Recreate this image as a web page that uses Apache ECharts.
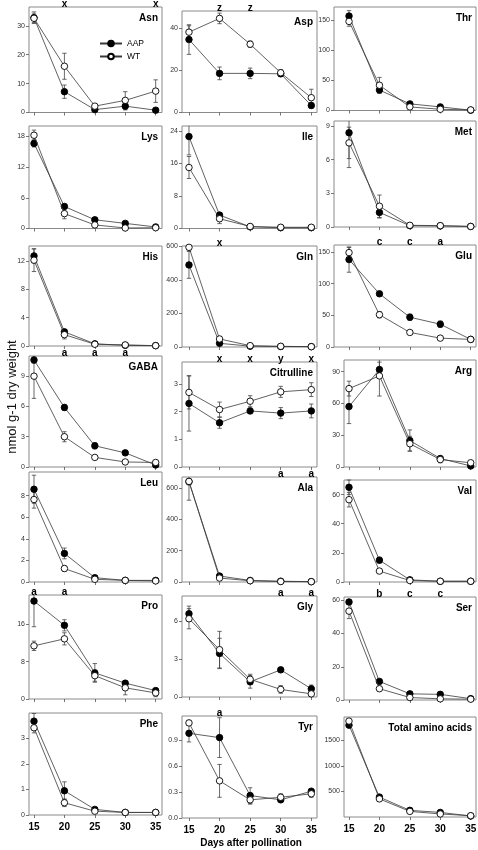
<!DOCTYPE html>
<html><head><meta charset="utf-8">
<script src="https://cdn.jsdelivr.net/npm/echarts@6/dist/echarts.min.js"></script>
<style>html,body{margin:0;padding:0;background:#fff}#c{width:478px;height:850px}</style>
</head><body><div id="c"></div>
<script>
const days = [15, 20, 25, 30, 35];

const asnAAP = [32.8, 7.2, 1.0, 2.2, 0.8];
const asnAAPErr = [2.0, 2.3, 0.4, 1.3, 0.4];
const asnWT = [32.6, 16.0, 2.2, 4.2, 7.4];
const asnWTErr = [1.5, 4.5, 0.6, 3.0, 3.9];
const asnSig = ['', 'x', '', '', 'x'];
const asnTicks = [0, 10, 20, 30];

const aspAAP = [34.5, 18.5, 18.5, 18.3, 3.3];
const aspAAPErr = [7.0, 3.0, 2.5, 1.3, 1.3];
const aspWT = [38, 44.5, 32.3, 18.8, 7.0];
const aspWTErr = [3.0, 2.5, 1.5, 1.5, 4.0];
const aspSig = ['', 'z', 'z', '', ''];
const aspTicks = [0, 20, 40];

const thrAAP = [157, 34, 11, 6, 0.5];
const thrAAPErr = [9, 5, 2, 2, 0.3];
const thrWT = [148, 42, 6, 2, 1];
const thrWTErr = [8, 13, 2, 1, 0.3];
const thrSig = ['', '', '', '', ''];
const thrTicks = [0, 50, 100, 150];

const lysAAP = [16.6, 4.3, 1.7, 1.0, 0.3];
const lysAAPErr = [0.7, 0.3, 0.3, 0.2, 0.1];
const lysWT = [18.2, 2.9, 0.7, 0.1, 0.15];
const lysWTErr = [1.0, 1.0, 0.2, 0.1, 0.1];
const lysSig = ['', '', '', '', ''];
const lysTicks = [0, 6, 12, 18];

const ileAAP = [22.6, 3.3, 0.4, 0.2, 0.2];
const ileAAPErr = [4.5, 0.6, 0.1, 0.05, 0.05];
const ileWT = [15.0, 2.4, 0.5, 0.3, 0.3];
const ileWTErr = [2.7, 1.2, 0.2, 0.1, 0.1];
const ileSig = ['', '', '', '', ''];
const ileTicks = [0, 8, 16, 24];

const metAAP = [8.4, 1.3, 0.12, 0.1, 0.05];
const metAAPErr = [3.1, 0.5, 0.05, 0.03, 0.02];
const metWT = [7.5, 1.85, 0.15, 0.12, 0.05];
const metWTErr = [1.4, 1.0, 0.05, 0.03, 0.02];
const metSig = ['', '', '', '', ''];
const metTicks = [0, 3, 6, 9];

const hisAAP = [12.7, 2.0, 0.3, 0.1, 0.05];
const hisAAPErr = [1.0, 0.3, 0.1, 0.05, 0.02];
const hisWT = [12.1, 1.6, 0.25, 0.15, 0.05];
const hisWTErr = [1.6, 0.6, 0.1, 0.05, 0.02];
const hisSig = ['', '', '', '', ''];
const hisTicks = [0, 4, 8, 12];

const glnAAP = [490, 22, 5, 3, 2];
const glnAAPErr = [80, 5, 2, 1, 1];
const glnWT = [595, 48, 8, 4, 2];
const glnWTErr = [15, 10, 2, 1, 1];
const glnSig = ['', 'x', '', '', ''];
const glnTicks = [0, 200, 400, 600];

const gluAAP = [138, 84, 47, 36, 12];
const gluAAPErr = [20, 3, 5, 5, 2];
const gluWT = [149, 51, 23, 14, 12];
const gluWTErr = [8, 5, 2, 2, 2];
const gluSig = ['', 'c', 'c', 'a', ''];
const gluTicks = [0, 50, 100, 150];

const gabaAAP = [10.6, 5.9, 2.1, 1.4, 0.2];
const gabaAAPErr = [0.3, 0.3, 0.3, 0.2, 0.1];
const gabaWT = [9.0, 3.0, 0.95, 0.5, 0.45];
const gabaWTErr = [2.2, 0.5, 0.1, 0.1, 0.1];
const gabaSig = ['', 'a', 'a', 'a', ''];
const gabaTicks = [0, 3, 6, 9];

const citAAP = [2.3, 1.6, 2.03, 1.95, 2.03];
const citAAPErr = [1.0, 0.2, 0.1, 0.2, 0.25];
const citWT = [2.7, 2.08, 2.38, 2.72, 2.8];
const citWTErr = [0.6, 0.27, 0.2, 0.2, 0.25];
const citSig = ['', 'x', 'x', 'y', 'x'];
const citTicks = [0, 1, 2, 3];

const argAAP = [57, 92, 25, 8, 1];
const argAAPErr = [16, 7, 10, 2, 1];
const argWT = [74, 86, 22, 7, 4];
const argWTErr = [7, 19, 7, 3, 1];
const argSig = ['', '', '', '', ''];
const argTicks = [0, 30, 60, 90];

const leuAAP = [8.6, 2.65, 0.4, 0.15, 0.15];
const leuAAPErr = [1.3, 0.5, 0.1, 0.05, 0.05];
const leuWT = [7.65, 1.25, 0.25, 0.15, 0.1];
const leuWTErr = [0.8, 0.25, 0.05, 0.05, 0.05];
const leuSig = ['', '', '', '', ''];
const leuTicks = [0, 2, 4, 6, 8];

const alaAAP = [640, 38, 10, 5, 2];
const alaAAPErr = [20, 5, 2, 2, 1];
const alaWT = [642, 25, 8, 3, 2];
const alaWTErr = [120, 5, 2, 2, 1];
const alaSig = ['', '', '', 'a', 'a'];
const alaTicks = [0, 200, 400, 600];

const valAAP = [65, 15, 1.5, 0.5, 0.5];
const valAAPErr = [5, 2, 0.3, 0.2, 0.2];
const valWT = [56.5, 7.5, 1, 0.5, 0.5];
const valWTErr = [5, 1, 0.3, 0.2, 0.2];
const valSig = ['', '', '', '', ''];
const valTicks = [0, 20, 40, 60];

const proAAP = [21, 15.8, 5.6, 3.4, 1.8];
const proAAPErr = [5.5, 1.2, 2.0, 0.5, 0.4];
const proWT = [11.4, 12.9, 5.0, 2.4, 1.3];
const proWTErr = [1.0, 1.3, 1.2, 1.5, 0.8];
const proSig = ['a', 'a', '', '', ''];
const proTicks = [0, 8, 16];

const glyAAP = [6.6, 3.45, 1.2, 2.15, 0.65];
const glyAAPErr = [0.6, 1.2, 0.5, 0.15, 0.3];
const glyWT = [6.2, 3.75, 1.4, 0.6, 0.25];
const glyWTErr = [0.8, 1.45, 0.4, 0.3, 0.1];
const glySig = ['', '', '', 'a', 'a'];
const glyTicks = [0, 3, 6];

const serAAP = [59, 11.2, 3.7, 3.4, 0.8];
const serAAPErr = [1.5, 1, 0.5, 0.5, 0.2];
const serWT = [53.5, 6.8, 1.5, 0.7, 0.5];
const serWTErr = [4.5, 0.8, 0.3, 0.2, 0.2];
const serSig = ['', 'b', 'c', 'c', ''];
const serTicks = [0, 20, 40, 60];

const pheAAP = [3.68, 0.95, 0.22, 0.1, 0.1];
const pheAAPErr = [0.3, 0.35, 0.05, 0.02, 0.02];
const pheWT = [3.42, 0.48, 0.15, 0.1, 0.1];
const pheWTErr = [0.2, 0.15, 0.03, 0.02, 0.02];
const pheSig = ['', '', '', '', ''];
const pheTicks = [0, 1, 2, 3];

const tyrAAP = [0.98, 0.93, 0.26, 0.21, 0.31];
const tyrAAPErr = [0.1, 0.23, 0.09, 0.02, 0.02];
const tyrWT = [1.1, 0.43, 0.21, 0.24, 0.28];
const tyrWTErr = [0.03, 0.19, 0.05, 0.04, 0.04];
const tyrSig = ['', 'a', '', '', ''];
const tyrTicks = [0, 0.3, 0.6, 0.9];

const totAAP = [1800, 390, 130, 90, 20];
const totAAPErr = [30, 20, 15, 10, 5];
const totWT = [1880, 355, 110, 60, 25];
const totWTErr = [30, 20, 10, 10, 5];
const totSig = ['', '', '', '', ''];
const totTicks = [500, 1000, 1500];

// layout
const FONT = 'Liberation Sans, Arial, sans-serif';
const cols = [
  {left: 29, right: 162, xmin: 14.18, xmax: 36.04},
  {left: 182, right: 317, xmin: 13.86, xmax: 35.93},
  {left: 334, right: 476, xmin: 12.53, xmax: 35.87},
  {left: 344, right: 476, xmin: 14.18, xmax: 35.87}
];
const P = (title, aap, aapErr, wt, wtErr, sig, ticks, yMax, col, top, bottom, row, dec) =>
  ({title, aap, aapErr, wt, wtErr, sig, ticks, yMax, col, top, bottom, row, dec: dec || 0});
const panels = [
  P('Asn', asnAAP, asnAAPErr, asnWT, asnWTErr, asnSig, asnTicks, 36.5, 0, 7, 112.5, 0),
  P('Asp', aspAAP, aspAAPErr, aspWT, aspWTErr, aspSig, aspTicks, 48, 1, 11, 112.5, 0),
  P('Thr', thrAAP, thrAAPErr, thrWT, thrWTErr, thrSig, thrTicks, 172, 2, 7, 110.5, 0),
  P('Lys', lysAAP, lysAAPErr, lysWT, lysWTErr, lysSig, lysTicks, 20, 0, 126, 228.5, 1),
  P('Ile', ileAAP, ileAAPErr, ileWT, ileWTErr, ileSig, ileTicks, 25.2, 1, 126, 228.5, 1),
  P('Met', metAAP, metAAPErr, metWT, metWTErr, metSig, metTicks, 9.45, 2, 121, 227, 1),
  P('His', hisAAP, hisAAPErr, hisWT, hisWTErr, hisSig, hisTicks, 14.1, 0, 246, 346, 2),
  P('Gln', glnAAP, glnAAPErr, glnWT, glnWTErr, glnSig, glnTicks, 603, 1, 246, 347, 2),
  P('Glu', gluAAP, gluAAPErr, gluWT, gluWTErr, gluSig, gluTicks, 161, 2, 245, 347, 2),
  P('GABA', gabaAAP, gabaAAPErr, gabaWT, gabaWTErr, gabaSig, gabaTicks, 11, 0, 356, 467, 3),
  P('Citrulline', citAAP, citAAPErr, citWT, citWTErr, citSig, citTicks, 3.8, 1, 362, 467, 3),
  P('Arg', argAAP, argAAPErr, argWT, argWTErr, argSig, argTicks, 101, 3, 360, 467, 3),
  P('Leu', leuAAP, leuAAPErr, leuWT, leuWTErr, leuSig, leuTicks, 10.2, 0, 472, 582, 4),
  P('Ala', alaAAP, alaAAPErr, alaWT, alaWTErr, alaSig, alaTicks, 670, 1, 477, 582, 4),
  P('Val', valAAP, valAAPErr, valWT, valWTErr, valSig, valTicks, 70, 3, 480, 582, 4),
  P('Pro', proAAP, proAAPErr, proWT, proWTErr, proSig, proTicks, 22.3, 0, 595, 699, 5),
  P('Gly', glyAAP, glyAAPErr, glyWT, glyWTErr, glySig, glyTicks, 8, 1, 596, 697, 5),
  P('Ser', serAAP, serAAPErr, serWT, serWTErr, serSig, serTicks, 62, 3, 597, 700, 5),
  P('Phe', pheAAP, pheAAPErr, pheWT, pheWTErr, pheSig, pheTicks, 4, 0, 713, 815, 6),
  P('Tyr', tyrAAP, tyrAAPErr, tyrWT, tyrWTErr, tyrSig, tyrTicks, 1.18, 1, 716, 818, 6, 1),
  P('Total amino acids', totAAP, totAAPErr, totWT, totWTErr, totSig, totTicks, 1960, 3, 717, 817, 6)
];

function errSeries(vals, errs, gi) {
  return {
    type: 'custom', xAxisIndex: gi, yAxisIndex: gi, z: 1, silent: true, clip: false,
    data: days.map((d, k) => [d, vals[k], errs[k]]),
    renderItem(params, api) {
      const cs = params.coordSys;
      const x = api.value(0), v = api.value(1), e = api.value(2);
      const px = api.coord([x, v])[0];
      let yt = api.coord([x, v + e])[1];
      let yb = api.coord([x, v - e])[1];
      const top = cs.y, bot = cs.y + cs.height;
      const capT = yt >= top, capB = yb <= bot;
      yt = Math.max(yt, top); yb = Math.min(yb, bot);
      const st = {stroke: '#444', lineWidth: 0.8};
      const ch = [{type: 'line', shape: {x1: px, y1: yt, x2: px, y2: yb}, style: st}];
      if (capT) ch.push({type: 'line', shape: {x1: px - 2.2, y1: yt, x2: px + 2.2, y2: yt}, style: st});
      if (capB) ch.push({type: 'line', shape: {x1: px - 2.2, y1: yb, x2: px + 2.2, y2: yb}, style: st});
      return {type: 'group', children: ch};
    }
  };
}
function sigSeries(sig, gi) {
  const data = [];
  days.forEach((d, k) => { if (sig[k]) data.push([d, k]); });
  return {
    type: 'custom', xAxisIndex: gi, yAxisIndex: gi, z: 5, silent: true, clip: false, data,
    renderItem(params, api) {
      const cs = params.coordSys;
      const x = api.coord([api.value(0), 0])[0];
      return {type: 'text', x: x, y: cs.y + 2.5,
        style: {text: sig[api.value(1)], align: 'center', verticalAlign: 'bottom',
          fontSize: 10, fontWeight: 'bold', fontFamily: FONT, fill: '#000'}};
    }
  };
}
function lineSeries(name, vals, gi, fill) {
  return {
    type: 'line', name, xAxisIndex: gi, yAxisIndex: gi, z: name === 'WT' ? 3 : 2,
    data: days.map((d, k) => [d, vals[k]]),
    symbol: 'circle', symbolSize: 6.5, showSymbol: true, silent: true,
    lineStyle: {color: '#3a3a3a', width: 0.8},
    itemStyle: {color: fill, borderColor: '#000', borderWidth: 0.9},
    emphasis: {disabled: true}
  };
}

const grid = [], xAxis = [], yAxis = [], series = [], graphics = [];
panels.forEach((p, i) => {
  const c = cols[p.col];
  grid.push({left: c.left, top: p.top, width: c.right - c.left, height: p.bottom - p.top,
    show: true, borderColor: '#8a8a8a', borderWidth: 1, backgroundColor: 'transparent',
    containLabel: false, outerBoundsMode: 'none'});
  xAxis.push({gridIndex: i, type: 'value', min: c.xmin, max: c.xmax,
    axisLine: {show: false}, splitLine: {show: false},
    axisTick: {show: true, length: 3, customValues: days, lineStyle: {color: '#555', width: 0.8}},
    axisLabel: {show: p.row === 6, customValues: days, fontSize: 10, fontWeight: 'bold',
      fontFamily: FONT, color: '#000', margin: 7}});
  yAxis.push({gridIndex: i, type: 'value', min: 0, max: p.yMax,
    axisLine: {show: false}, splitLine: {show: false},
    axisTick: {show: true, length: 3, customValues: p.ticks, lineStyle: {color: '#555', width: 0.8}},
    axisLabel: {customValues: p.ticks, fontSize: 7, fontFamily: FONT, color: '#333', margin: 4,
      formatter: v => p.dec ? v.toFixed(p.dec) : String(v)}});
  series.push(errSeries(p.aap, p.aapErr, i));
  series.push(errSeries(p.wt, p.wtErr, i));
  series.push(lineSeries('AAP', p.aap, i, '#000'));
  series.push(lineSeries('WT', p.wt, i, '#fff'));
  series.push(sigSeries(p.sig, i));
  graphics.push({type: 'text', x: c.right - 4, y: p.top + 11,
    style: {text: p.title, align: 'right', verticalAlign: 'middle', fontSize: 10,
      fontWeight: 'bold', fontFamily: FONT, fill: '#000'}});
});
graphics.push({type: 'text', x: 12, y: 397, rotation: Math.PI / 2,
  style: {text: 'nmol g-1 dry weight', align: 'center', verticalAlign: 'middle',
    fontSize: 13, fontFamily: FONT, fill: '#111'}});
graphics.push({type: 'text', x: 251, y: 843,
  style: {text: 'Days after pollination', align: 'center', verticalAlign: 'middle',
    fontSize: 10, fontWeight: 'bold', fontFamily: FONT, fill: '#000'}});

const chart = echarts.init(document.getElementById('c'), null, {renderer: 'canvas'});
chart.setOption({
  animation: false,
  backgroundColor: '#fff',
  textStyle: {fontFamily: FONT},
  legend: {data: ['AAP', 'WT'], left: 94, top: 34, orient: 'vertical', itemWidth: 22, itemHeight: 7,
    itemGap: 4, selectedMode: false, textStyle: {fontSize: 8.5, color: '#000', fontFamily: FONT}},
  grid, xAxis, yAxis, series, graphic: graphics
});
</script></body></html>
